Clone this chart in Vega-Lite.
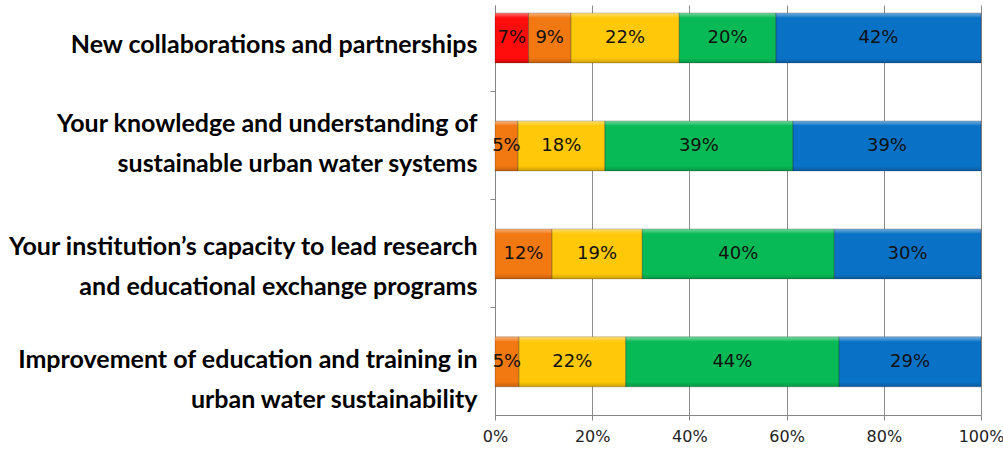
{
  "$schema": "https://vega.github.io/schema/vega-lite/v6.json",
  "width": 486,
  "height": 410,
  "autosize": "none",
  "padding": {"left": 495, "top": 5, "right": 22, "bottom": 34},
  "background": "white",
  "config": {"view": {"stroke": null}},
  "data": {
    "values": [
      {"item": "New collaborations and partnerships", "level": "1", "value": 0.069},
      {"item": "New collaborations and partnerships", "level": "2", "value": 0.087},
      {"item": "New collaborations and partnerships", "level": "3", "value": 0.223},
      {"item": "New collaborations and partnerships", "level": "4", "value": 0.199},
      {"item": "New collaborations and partnerships", "level": "5", "value": 0.422},
      {"item": "Your knowledge and understanding of\nsustainable urban water systems", "level": "2", "value": 0.047},
      {"item": "Your knowledge and understanding of\nsustainable urban water systems", "level": "3", "value": 0.179},
      {"item": "Your knowledge and understanding of\nsustainable urban water systems", "level": "4", "value": 0.387},
      {"item": "Your knowledge and understanding of\nsustainable urban water systems", "level": "5", "value": 0.387},
      {"item": "Your institution’s capacity to lead research\nand educational exchange programs", "level": "2", "value": 0.117},
      {"item": "Your institution’s capacity to lead research\nand educational exchange programs", "level": "3", "value": 0.186},
      {"item": "Your institution’s capacity to lead research\nand educational exchange programs", "level": "4", "value": 0.395},
      {"item": "Your institution’s capacity to lead research\nand educational exchange programs", "level": "5", "value": 0.302},
      {"item": "Improvement of education and training in\nurban water sustainability", "level": "2", "value": 0.049},
      {"item": "Improvement of education and training in\nurban water sustainability", "level": "3", "value": 0.220},
      {"item": "Improvement of education and training in\nurban water sustainability", "level": "4", "value": 0.439},
      {"item": "Improvement of education and training in\nurban water sustainability", "level": "5", "value": 0.292}
    ]
  },
  "transform": [
    {"stack": "value", "groupby": ["item"], "sort": [{"field": "level", "order": "ascending"}], "as": ["v0", "v1"]},
    {"calculate": "(datum.v0 + datum.v1) / 2", "as": "mid"}
  ],
  "encoding": {
    "y": {
      "field": "item", "type": "nominal", "sort": null, "title": null,
      "scale": {"paddingInner": 0.537, "paddingOuter": 0.167, "align": 0.22},
      "axis": {
        "domainColor": "#868686", "tickColor": "#868686", "tickSize": 5,
        "bandPosition": -0.58,
        "labelFont": "Lato", "labelFontWeight": "bold", "labelFontSize": 25,
        "labelColor": "#000000", "labelLimit": 600, "labelPadding": 13,
        "labelLineHeight": 40, "labelBaseline": "middle",
        "labelExpr": "split(datum.label, '\\n')",
        "labelOffset": {
          "condition": [
            {"test": "indexof(datum.value, 'New') == 0", "value": 7},
            {"test": "indexof(datum.value, 'Your knowledge') == 0", "value": -22},
            {"test": "indexof(datum.value, 'Your institution') == 0", "value": -7}
          ],
          "value": -2
        },
        "grid": false
      }
    },
    "x": {
      "field": "v0", "type": "quantitative",
      "scale": {"domain": [0, 1], "nice": false},
      "axis": {
        "values": [0, 0.2, 0.4, 0.6, 0.8, 1], "format": ".0%", "title": null,
        "labelFont": "DejaVu Sans", "labelFontSize": 16, "labelColor": "#222222",
        "labelPadding": 8, "labelFlush": false,
        "domainColor": "#868686", "tickColor": "#868686", "tickSize": 5,
        "grid": true, "gridColor": "#8c8c8c", "gridWidth": 1
      }
    },
    "x2": {"field": "v1"}
  },
  "layer": [
    {
      "mark": {"type": "bar"},
      "encoding": {
        "color": {
          "field": "level", "type": "nominal", "legend": null,
          "scale": {"domain": ["1", "2", "3", "4", "5"], "range": ["#FF0C0C", "#F27812", "#FFC808", "#08BA55", "#0A72C6"]}
        }
      }
    },
    {
      "mark": {
        "type": "bar",
        "fill": {
          "gradient": "linear", "x1": 0, "y1": 0, "x2": 0, "y2": 1,
          "stops": [
            {"offset": 0, "color": "rgba(255,255,255,0.45)"},
            {"offset": 0.1, "color": "rgba(255,255,255,0)"},
            {"offset": 0.9, "color": "rgba(0,0,0,0)"},
            {"offset": 1, "color": "rgba(0,0,0,0.2)"}
          ]
        },
        "stroke": "#000000", "strokeOpacity": 0.2, "strokeWidth": 1
      },
      "encoding": {}
    },
    {
      "mark": {"type": "text", "font": "DejaVu Sans", "fontSize": 18, "color": "#111111"},
      "encoding": {
        "x": {"field": "mid", "type": "quantitative"},
        "x2": null,
        "text": {"field": "value", "format": ".0%"}
      }
    }
  ]
}
